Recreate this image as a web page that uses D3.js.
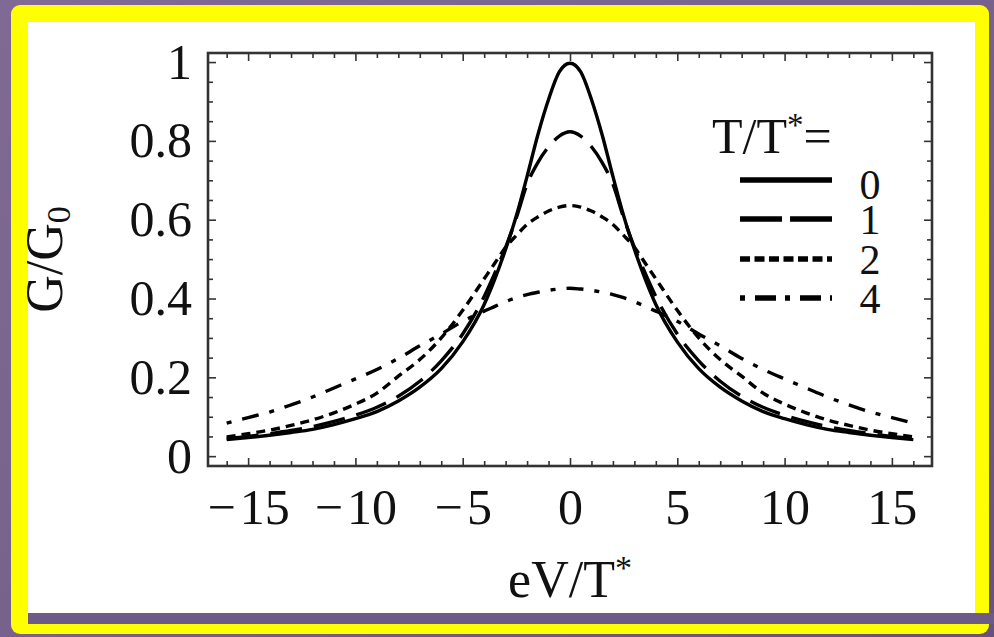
<!DOCTYPE html>
<html>
<head>
<meta charset="utf-8">
<title>G/G0 vs eV/T*</title>
<script src="https://cdn.jsdelivr.net/npm/d3@7"></script>
<style>
    html, body { margin: 0; padding: 0; overflow: hidden; background: #6e5a86; }
    #vis-container { width: 994px; height: 637px; }
    text { font-family: "Liberation Serif", "Times New Roman", serif; fill: #111; }
</style>
</head>
<body>
<div id="vis-container"></div>
<script>
// Sample positions along eV/T*
const xValues = [-16, -15, -14, -13, -12, -11, -10, -9, -8, -7, -6, -5, -4, -3.5, -3, -2.5, -2, -1.5, -1, -0.5,
    0, 0.5, 1, 1.5, 2, 2.5, 3, 3.5, 4, 5, 6, 7, 8, 9, 10, 11, 12, 13, 14, 15, 16];

// G/G0, one array per temperature
const gT0 = [0.042, 0.047, 0.053, 0.060, 0.068, 0.080, 0.095, 0.113, 0.140, 0.175, 0.222, 0.290, 0.385, 0.450, 0.525, 0.610, 0.710, 0.815, 0.905, 0.975,
    0.997, 0.975, 0.905, 0.815, 0.710, 0.610, 0.525, 0.450, 0.385, 0.290, 0.222, 0.175, 0.140, 0.113, 0.095, 0.080, 0.068, 0.060, 0.053, 0.047, 0.042];
const gT1 = [0.045, 0.050, 0.057, 0.065, 0.075, 0.088, 0.104, 0.124, 0.152, 0.190, 0.242, 0.310, 0.405, 0.465, 0.530, 0.605, 0.690, 0.745, 0.785, 0.812,
    0.823, 0.812, 0.785, 0.745, 0.690, 0.605, 0.530, 0.465, 0.405, 0.310, 0.242, 0.190, 0.152, 0.124, 0.104, 0.088, 0.075, 0.065, 0.057, 0.050, 0.045];
const gT2 = [0.049, 0.057, 0.066, 0.078, 0.092, 0.110, 0.132, 0.160, 0.203, 0.245, 0.300, 0.370, 0.450, 0.490, 0.530, 0.560, 0.588, 0.607, 0.622, 0.632,
    0.636, 0.632, 0.622, 0.607, 0.588, 0.560, 0.530, 0.490, 0.450, 0.370, 0.300, 0.245, 0.203, 0.160, 0.132, 0.110, 0.092, 0.078, 0.066, 0.057, 0.049];
const gT4 = [0.084, 0.098, 0.112, 0.130, 0.150, 0.173, 0.196, 0.220, 0.248, 0.280, 0.310, 0.342, 0.368, 0.380, 0.392, 0.402, 0.410, 0.416, 0.421, 0.424,
    0.426, 0.424, 0.421, 0.416, 0.410, 0.402, 0.392, 0.380, 0.368, 0.342, 0.310, 0.280, 0.248, 0.220, 0.196, 0.173, 0.150, 0.130, 0.112, 0.098, 0.084];

// Legend labels (T/T*)
const seriesLabels = ["0", "1", "2", "4"];

// Tick values and labels
const xMajorTicks = [-15, -10, -5, 0, 5, 10, 15];
const xTickLabels = ["\u2212\u200A15", "\u2212\u200A10", "\u2212\u200A5", "0", "5", "10", "15"];
const xMinorTicks = [-16, -14, -13, -12, -11, -9, -8, -7, -6, -4, -3, -2, -1, 1, 2, 3, 4, 6, 7, 8, 9, 11, 12, 13, 14, 16];
const yMajorTicks = [0, 0.2, 0.4, 0.6, 0.8, 1];
const yTickLabels = ["0", "0.2", "0.4", "0.6", "0.8", "1"];
const yMinorTicks = [0.05, 0.1, 0.15, 0.25, 0.3, 0.35, 0.45, 0.5, 0.55, 0.65, 0.7, 0.75, 0.85, 0.9, 0.95];

function main()
{
    // Page and plot frame
    const page = { width: 994, height: 637 };
    const frame = { left: 208, right: 932, top: 53, bottom: 466 };

    // Line styles per series
    const dashes = ["none", "32 12", "9 6", "5 11 17 11"];
    const legendDashes = ["none", "42 8", "10 4.5", "5 10 21 9"];

    const svg = d3.select("#vis-container")
        .append("svg")
        .attr("width", page.width)
        .attr("height", page.height);

    // Purple slide background
    const grad = svg.append("defs")
        .append("linearGradient")
        .attr("id", "bg")
        .attr("x1", 0).attr("y1", 0).attr("x2", 1).attr("y2", 1);
    grad.append("stop").attr("offset", 0).attr("stop-color", "#806a95");
    grad.append("stop").attr("offset", 0.5).attr("stop-color", "#77628e");
    grad.append("stop").attr("offset", 1).attr("stop-color", "#67527e");

    svg.append("rect").attr("width", page.width).attr("height", page.height).attr("fill", "url(#bg)");

    // Yellow border with white panel
    svg.append("rect")
        .attr("x", 11).attr("y", 5).attr("width", 978).attr("height", 629)
        .attr("rx", 9)
        .attr("fill", "#ffff00");
    svg.append("rect")
        .attr("x", 28).attr("y", 22).attr("width", 947).attr("height", 591)
        .attr("fill", "#ffffff");
    svg.append("rect")
        .attr("x", 28).attr("y", 613).attr("width", 966).attr("height", 11)
        .attr("fill", "#6e5a86");

    // Scales
    const xScale = d3.scaleLinear().domain([-16.87, 16.87]).range([frame.left, frame.right]);
    const yScale = d3.scaleLinear().domain([-0.025, 1.023]).range([frame.bottom, frame.top]);

    // Curves
    const line = d3.line()
        .x(d => xScale(d[0]))
        .y(d => yScale(d[1]))
        .curve(d3.curveMonotoneX);

    const series = [gT0, gT1, gT2, gT4];

    svg.append("g")
        .selectAll("path")
        .data(series)
        .enter()
        .append("path")
        .attr("d", s => line(xValues.map((x, i) => [x, s[i]])))
        .attr("fill", "none")
        .attr("stroke", "#000")
        .attr("stroke-width", 3.4)
        .attr("stroke-dasharray", (_, i) => dashes[i]);

    // Axes: ticks point inward on all four sides
    const fontSize = 50;

    svg.append("g")
        .attr("transform", `translate(0, ${frame.bottom})`)
        .call(d3.axisBottom(xScale).tickValues(xMajorTicks).tickSize(-8).tickPadding(22)
            .tickFormat((_, i) => xTickLabels[i]));
    svg.append("g")
        .attr("transform", `translate(0, ${frame.bottom})`)
        .call(d3.axisBottom(xScale).tickValues(xMinorTicks).tickSize(-5).tickFormat(""));
    svg.append("g")
        .attr("transform", `translate(0, ${frame.top})`)
        .call(d3.axisTop(xScale).tickValues(xMajorTicks).tickSize(-8).tickFormat(""));
    svg.append("g")
        .attr("transform", `translate(0, ${frame.top})`)
        .call(d3.axisTop(xScale).tickValues(xMinorTicks).tickSize(-5).tickFormat(""));

    svg.append("g")
        .attr("transform", `translate(${frame.left}, 0)`)
        .call(d3.axisLeft(yScale).tickValues(yMajorTicks).tickSize(-8).tickPadding(16)
            .tickFormat((_, i) => yTickLabels[i]));
    svg.append("g")
        .attr("transform", `translate(${frame.left}, 0)`)
        .call(d3.axisLeft(yScale).tickValues(yMinorTicks).tickSize(-5).tickFormat(""));
    svg.append("g")
        .attr("transform", `translate(${frame.right}, 0)`)
        .call(d3.axisRight(yScale).tickValues(yMajorTicks).tickSize(-8).tickFormat(""));
    svg.append("g")
        .attr("transform", `translate(${frame.right}, 0)`)
        .call(d3.axisRight(yScale).tickValues(yMinorTicks).tickSize(-5).tickFormat(""));

    svg.selectAll(".domain").remove();
    svg.selectAll(".tick line").attr("stroke", "#333").attr("stroke-width", 1.6);
    svg.selectAll(".tick text")
        .attr("fill", "#111")
        .attr("font-family", "'Liberation Serif', 'Times New Roman', serif")
        .attr("font-size", fontSize);

    // Frame
    svg.append("rect")
        .attr("x", frame.left).attr("y", frame.top)
        .attr("width", frame.right - frame.left).attr("height", frame.bottom - frame.top)
        .attr("fill", "none")
        .attr("stroke", "#333")
        .attr("stroke-width", 2.6);

    // X axis title
    const xTitle = svg.append("text")
        .attr("x", (frame.left + frame.right) / 2)
        .attr("y", 597)
        .attr("text-anchor", "middle")
        .attr("font-size", 52);
    xTitle.append("tspan").text("eV/T");
    xTitle.append("tspan").attr("font-size", 34).attr("dy", -18).text("*");

    // Y axis title
    const yTitle = svg.append("text")
        .attr("transform", `translate(62, ${(frame.top + frame.bottom) / 2}) rotate(-90)`)
        .attr("text-anchor", "middle")
        .attr("font-size", 52);
    yTitle.append("tspan").text("G/G");
    yTitle.append("tspan").attr("font-size", 34).attr("dy", 8).text("0");

    // Legend
    const legendTitle = svg.append("text")
        .attr("x", 712)
        .attr("y", 153)
        .attr("font-size", 50);
    legendTitle.append("tspan").text("T/T");
    legendTitle.append("tspan").attr("font-size", 33).attr("dy", -17).text("*");
    legendTitle.append("tspan").attr("dy", 17).text("=");

    const legendRows = [180, 219, 259, 298];

    const legend = svg.append("g")
        .selectAll("g")
        .data(seriesLabels)
        .enter()
        .append("g")
        .attr("transform", (_, i) => `translate(740, ${legendRows[i]})`);

    legend.append("line")
        .attr("x1", 0).attr("x2", 92)
        .attr("stroke", "#000")
        .attr("stroke-width", 5.5)
        .attr("stroke-dasharray", (_, i) => legendDashes[i]);

    legend.append("text")
        .attr("x", 130)
        .attr("y", (_, i) => i === 0 ? 19 : 15)
        .attr("text-anchor", "middle")
        .attr("font-size", 42)
        .text(d => d);
}

document.addEventListener("DOMContentLoaded", main);
</script>
</body>
</html>
